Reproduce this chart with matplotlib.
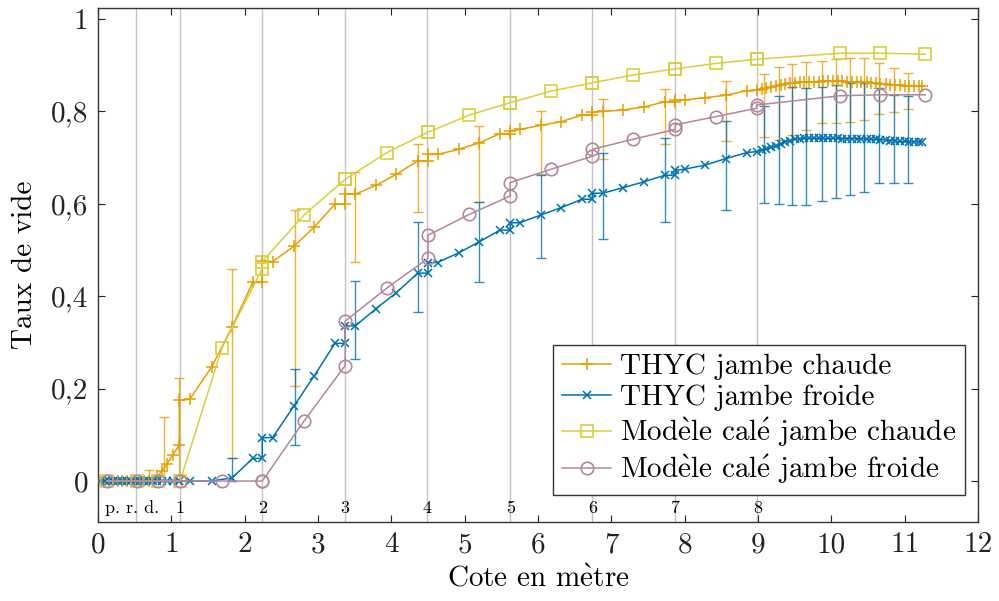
import matplotlib
matplotlib.use("Agg")
import matplotlib.pyplot as plt
import numpy as np

plt.rcParams['font.family'] = ['cmr10', 'DejaVu Serif']
plt.rcParams['mathtext.fontset'] = 'cm'
plt.rcParams['axes.unicode_minus'] = False

# THYC jambe chaude
chaude_x = [0.03, 0.09, 0.15, 0.21, 0.27, 0.33, 0.39, 0.45, 0.51, 0.57, 0.63, 0.69, 0.75,
            0.81, 0.87, 0.94, 1.02, 1.11, 1.11, 1.25, 1.55, 1.83, 2.11, 2.24, 2.24, 2.38,
            2.67, 2.95, 3.23, 3.37, 3.37, 3.51, 3.79, 4.07, 4.36, 4.50, 4.50, 4.63, 4.92,
            5.20, 5.48, 5.62, 5.62, 5.75, 6.04, 6.32, 6.60, 6.74, 6.74, 6.88, 7.16, 7.45,
            7.73, 7.87, 7.87, 8.00, 8.28, 8.56, 8.85, 8.98,
            9.05, 9.11, 9.18, 9.24, 9.31, 9.37, 9.44, 9.50, 9.57, 9.63, 9.70, 9.76, 9.83,
            9.89, 9.96, 10.02, 10.09, 10.15, 10.22, 10.28, 10.35, 10.41, 10.48, 10.54,
            10.61, 10.67, 10.74, 10.80, 10.87, 10.93, 11.00, 11.06, 11.13, 11.19, 11.24]
chaude_y = [0, 0, 0, 0, 0, 0, 0, 0, 0, 0, 0, 0, 0,
            0.010, 0.022, 0.037, 0.056, 0.079, 0.175, 0.177, 0.247, 0.334, 0.430, 0.430, 0.477, 0.475,
            0.508, 0.550, 0.599, 0.599, 0.621, 0.621, 0.640, 0.664, 0.693, 0.693, 0.707, 0.707, 0.718,
            0.732, 0.752, 0.752, 0.758, 0.761, 0.770, 0.778, 0.792, 0.792, 0.798, 0.800, 0.803, 0.810,
            0.821, 0.821, 0.825, 0.825, 0.830, 0.835, 0.845, 0.846,
            0.848, 0.850, 0.852, 0.855, 0.857, 0.859, 0.861, 0.862, 0.863, 0.864, 0.864, 0.864, 0.864,
            0.865, 0.865, 0.865, 0.865, 0.865, 0.864, 0.864, 0.864, 0.863, 0.863, 0.862,
            0.861, 0.860, 0.859, 0.858, 0.857, 0.857, 0.856, 0.856, 0.856, 0.855, 0.855]

# THYC jambe froide
froide_x = [0.03, 0.09, 0.15, 0.21, 0.27, 0.33, 0.39, 0.45, 0.51, 0.57, 0.63, 0.69, 0.75,
            0.81, 0.87, 0.94, 1.02, 1.11, 1.11, 1.25, 1.55, 1.83, 2.11, 2.24, 2.24, 2.38,
            2.67, 2.95, 3.23, 3.37, 3.37, 3.51, 3.79, 4.07, 4.36, 4.50, 4.50, 4.63, 4.92,
            5.20, 5.48, 5.62, 5.62, 5.75, 6.04, 6.32, 6.60, 6.74, 6.74, 6.88, 7.16, 7.45,
            7.73, 7.87, 7.87, 8.00, 8.28, 8.56, 8.85, 8.98,
            9.05, 9.11, 9.18, 9.24, 9.31, 9.37, 9.44, 9.50, 9.57, 9.63, 9.70, 9.76, 9.83,
            9.89, 9.96, 10.02, 10.09, 10.15, 10.22, 10.28, 10.35, 10.41, 10.48, 10.54,
            10.61, 10.67, 10.74, 10.80, 10.87, 10.93, 11.00, 11.06, 11.13, 11.19, 11.24]
froide_y = [0, 0, 0, 0, 0, 0, 0, 0, 0, 0, 0, 0, 0,
            0, 0, 0, 0, 0, 0, 0, 0, 0.007, 0.049, 0.049, 0.094, 0.094,
            0.162, 0.228, 0.298, 0.298, 0.336, 0.336, 0.373, 0.408, 0.450, 0.450, 0.473, 0.473, 0.494,
            0.518, 0.543, 0.543, 0.559, 0.559, 0.576, 0.592, 0.610, 0.610, 0.623, 0.623, 0.635, 0.648,
            0.662, 0.662, 0.673, 0.675, 0.684, 0.698, 0.711, 0.713,
            0.716, 0.719, 0.722, 0.726, 0.730, 0.734, 0.737, 0.740, 0.741, 0.742, 0.742, 0.742, 0.742,
            0.742, 0.742, 0.742, 0.742, 0.741, 0.741, 0.741, 0.741, 0.741, 0.740, 0.740,
            0.740, 0.739, 0.738, 0.737, 0.736, 0.735, 0.735, 0.734, 0.734, 0.734, 0.734]

# Modele cale
modele_x = [0.12, 0.53, 0.82, 1.12, 1.69, 2.24, 2.24, 2.81, 3.37, 3.37, 3.94, 4.50, 4.50,
            5.06, 5.62, 5.62, 6.18, 6.74, 6.74, 7.30, 7.87, 7.87, 8.43, 8.98, 8.98,
            10.12, 10.66, 11.28]
modele_chaude_y = [0, 0, 0, 0, 0.288, 0.460, 0.475, 0.576, 0.653, 0.653, 0.711, 0.755, 0.755,
                   0.792, 0.819, 0.819, 0.844, 0.862, 0.862, 0.879, 0.892, 0.892, 0.904, 0.913, 0.913,
                   0.926, 0.926, 0.924]
modele_froide_y = [0, 0, 0, 0, 0, 0, 0, 0.130, 0.250, 0.346, 0.418, 0.482, 0.532,
                   0.577, 0.617, 0.646, 0.675, 0.703, 0.718, 0.740, 0.761, 0.771, 0.789, 0.807, 0.814,
                   0.834, 0.836, 0.836]

# error bars (low / high ends)
err_chaude_x = [0.70, 0.905, 1.10, 1.83, 2.68, 3.51, 4.36, 5.20, 6.04, 6.88, 7.73, 8.56,
                9.08, 9.28, 9.47, 9.66, 9.87, 10.06, 10.25, 10.45, 10.65, 10.85, 11.04]
err_chaude_lo = [0.0, 0.0, 0.0, 0.050, 0.206, 0.475, 0.582, 0.605, 0.664, 0.697, 0.729, 0.736,
                 0.744, 0.738, 0.750, 0.760, 0.776, 0.776, 0.778, 0.781, 0.794, 0.798, 0.805]
err_chaude_hi = [0.024, 0.138, 0.224, 0.458, 0.587, 0.670, 0.729, 0.769, 0.800, 0.826, 0.848, 0.866,
                 0.882, 0.897, 0.902, 0.908, 0.910, 0.913, 0.916, 0.916, 0.904, 0.893, 0.884]

err_froide_x = [1.83, 2.68, 3.51, 4.36, 5.20, 6.04, 6.88, 7.73, 8.56,
                9.08, 9.28, 9.47, 9.66, 9.87, 10.06, 10.25, 10.45, 10.65, 10.85, 11.04]
err_froide_lo = [0.0, 0.079, 0.264, 0.366, 0.431, 0.483, 0.524, 0.560, 0.587,
                 0.601, 0.600, 0.597, 0.597, 0.607, 0.612, 0.620, 0.626, 0.646, 0.646, 0.646]
err_froide_hi = [0.050, 0.242, 0.434, 0.560, 0.605, 0.663, 0.709, 0.742, 0.780,
                 0.812, 0.833, 0.852, 0.850, 0.853, 0.857, 0.861, 0.861, 0.850, 0.836, 0.833]

# zones
zone_x = [1.12, 2.24, 3.37, 4.49, 5.62, 6.74, 7.87, 8.99]
zone_labels = ['1', '2', '3', '4', '5', '6', '7', '8']
prd_x = 0.52

c_orange = '#E69F00'
c_blue = '#0072B2'
c_yellow = '#D9CF3C'
c_mauve = '#B3879E'

# accents via mathtext so they stay in Computer Modern
egrave = r'$\mathrm{\grave{e}}$'
eacute = r'$\mathrm{\acute{e}}$'
modele = 'Mod' + egrave + 'le cal' + eacute

fig = plt.figure(figsize=(9.99, 6.01), dpi=100)
ax = fig.add_axes([0.0981, 0.1314, 0.8809, 0.8552])

for zx in [prd_x] + zone_x:
    ax.axvline(zx, color='#c4c4c4', lw=1.0, zorder=0)

def draw_err(x, lo, hi, color):
    lo = np.array(lo)
    hi = np.array(hi)
    ax.errorbar(x, lo, yerr=[np.zeros_like(lo), hi - lo], fmt='none',
                ecolor=color, elinewidth=1.0, capsize=3.8, capthick=1.0,
                alpha=0.8, zorder=1)

draw_err(err_chaude_x, err_chaude_lo, err_chaude_hi, c_orange)
draw_err(err_froide_x, err_froide_lo, err_froide_hi, c_blue)

ax.plot(chaude_x, chaude_y, color=c_orange, marker='+', ms=9, mew=1.1, lw=1.1,
        label='THYC jambe chaude', zorder=3)
ax.plot(froide_x, froide_y, color=c_blue, marker='x', ms=6, mew=1.1, lw=1.1,
        label='THYC jambe froide', zorder=3)
ax.plot(modele_x, modele_chaude_y, color=c_yellow, marker='s', ms=9, mew=1.2, lw=1.1,
        mfc='none', label=modele + ' jambe chaude', zorder=4)
ax.plot(modele_x, modele_froide_y, color=c_mauve, marker='o', ms=9, mew=1.2, lw=1.1,
        mfc='none', label=modele + ' jambe froide', zorder=4)

ax.text(0.46, -0.058, 'p. r. d.', fontsize=13, ha='center', va='center')
for zx, lab in zip(zone_x, zone_labels):
    ax.text(zx, -0.058, lab, fontsize=13, ha='center', va='center')

ax.set_xlim(0, 12)
ax.set_ylim(-0.0887, 1.0238)
ax.set_xticks(range(0, 13))
ax.set_xticklabels([str(i) for i in range(0, 13)])
yt = [0, 0.2, 0.4, 0.6, 0.8, 1]
ax.set_yticks(yt)
ax.set_yticklabels(['0', '0,2', '0,4', '0,6', '0,8', '1'])
ax.tick_params(direction='in', length=5, width=0.8, labelsize=21,
               top=True, right=True, pad=7, colors='#222222')
for sp in ax.spines.values():
    sp.set_linewidth(1.0)
    sp.set_color('#333333')

ax.set_xlabel('Cote en m' + egrave + 'tre', fontsize=21, labelpad=5)
ax.set_ylabel('Taux de vide', fontsize=21, labelpad=9)

leg = ax.legend(loc='lower left', bbox_to_anchor=(0.517, 0.0525), borderaxespad=0,
                fontsize=21, fancybox=False, framealpha=1, edgecolor='#333333',
                handlelength=1.7, handletextpad=0.3, labelspacing=0.15,
                borderpad=0.3)
leg.get_frame().set_linewidth(1.0)

fig.savefig('out.png', dpi=100)
